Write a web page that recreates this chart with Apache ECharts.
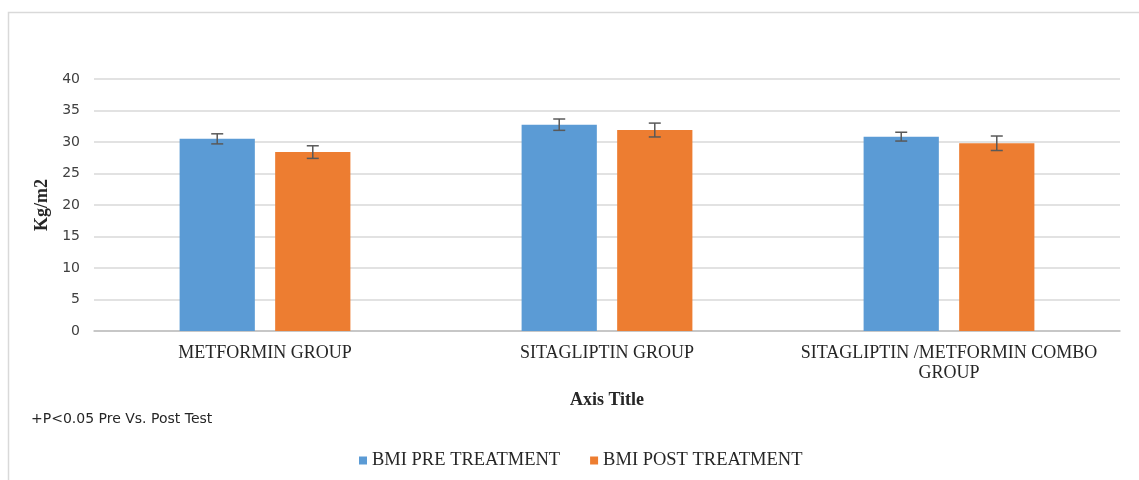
<!DOCTYPE html>
<html>
<head>
<meta charset="utf-8">
<script src="https://cdn.jsdelivr.net/npm/echarts@6/dist/echarts.min.js"></script>
<style>html,body{margin:0;padding:0;background:#fff;}#c{width:1139px;height:480px;}</style>
</head>
<body>
<div id="c"></div>
<script>
var categories = ['METFORMIN GROUP', 'SITAGLIPTIN GROUP', 'SITAGLIPTIN /METFORMIN COMBO\nGROUP'];
var seriesNames = ['BMI PRE TREATMENT', 'BMI POST TREATMENT'];
var preValues = [30.5, 32.75, 30.85];
var postValues = [28.4, 31.9, 29.8];
var preErrors = [0.8, 0.9, 0.7];
var postErrors = [1.0, 1.1, 1.15];
var yTicks = { min: 0, max: 40, interval: 5 };

var BAR_W = 0.22, BAR_GAP = 0.27;
var colors = ['#5B9BD5', '#ED7D31'];

function errorSeries(values, errors, sign) {
  var data = values.map(function (v, i) { return [i, v, errors[i]]; });
  return {
    type: 'custom',
    silent: true,
    z: 10,
    data: data,
    renderItem: function (params, api) {
      var idx = api.value(0), v = api.value(1), e = api.value(2);
      var band = api.size([1, 0])[0];
      var off = sign * band * (BAR_W + BAR_W * BAR_GAP) / 2;
      var top = api.coord([idx, v + e]);
      var bot = api.coord([idx, v - e]);
      var x = top[0] + off;
      var cap = 6;
      var st = { stroke: '#595959', lineWidth: 1.5 };
      return {
        type: 'group',
        children: [
          { type: 'line', shape: { x1: x, y1: top[1], x2: x, y2: bot[1] }, style: st },
          { type: 'line', shape: { x1: x - cap, y1: top[1], x2: x + cap, y2: top[1] }, style: st },
          { type: 'line', shape: { x1: x - cap, y1: bot[1], x2: x + cap, y2: bot[1] }, style: st }
        ]
      };
    }
  };
}

var chart = echarts.init(document.getElementById('c'));
chart.setOption({
  animation: false,
  backgroundColor: '#fff',
  graphic: [{
    type: 'rect', left: 6, top: 10, z: -1,
    shape: { width: 1140, height: 480 },
    style: { fill: 'none', stroke: '#d9d9d9', lineWidth: 1.5 }
  }],
  title: {
    text: '+P<0.05 Pre Vs. Post Test',
    left: 26, top: 407,
    textStyle: { fontFamily: 'DejaVu Sans', fontSize: 14, fontWeight: 'normal', color: '#262626' }
  },
  legend: {
    data: seriesNames,
    left: 354, top: 446,
    itemWidth: 8, itemHeight: 8, itemGap: 30,
    icon: 'rect',
    textStyle: { fontFamily: 'Liberation Serif', fontSize: 18.5, color: '#262626' }
  },
  grid: { left: 94, right: 19, top: 79, bottom: 149, containLabel: false },
  xAxis: {
    type: 'category',
    data: categories,
    name: 'Axis Title',
    nameLocation: 'middle',
    nameGap: 60,
    nameTextStyle: { fontFamily: 'Liberation Serif', fontSize: 18, fontWeight: 'bold', color: '#262626' },
    axisLine: { lineStyle: { color: '#bfbfbf', width: 1.5 } },
    axisTick: { show: false },
    axisLabel: { interval: 0, fontFamily: 'Liberation Serif', fontSize: 18, color: '#262626', margin: 12, lineHeight: 20 }
  },
  yAxis: {
    type: 'value',
    min: yTicks.min, max: yTicks.max, interval: yTicks.interval,
    name: 'Kg/m2',
    nameLocation: 'middle',
    nameGap: 40,
    nameTextStyle: { fontFamily: 'Liberation Serif', fontSize: 18, fontWeight: 'bold', color: '#262626' },
    axisLine: { show: false },
    axisTick: { show: false },
    splitLine: { lineStyle: { color: '#d9d9d9', width: 1.5 } },
    axisLabel: { fontFamily: 'DejaVu Sans', fontSize: 14, color: '#404040', margin: 14 }
  },
  series: [
    { name: seriesNames[0], type: 'bar', data: preValues, barWidth: (BAR_W * 100) + '%', barGap: (BAR_GAP * 100) + '%', itemStyle: { color: colors[0] } },
    { name: seriesNames[1], type: 'bar', data: postValues, barWidth: (BAR_W * 100) + '%', barGap: (BAR_GAP * 100) + '%', itemStyle: { color: colors[1] } },
    errorSeries(preValues, preErrors, -1),
    errorSeries(postValues, postErrors, 1)
  ]
});
</script>
</body>
</html>
